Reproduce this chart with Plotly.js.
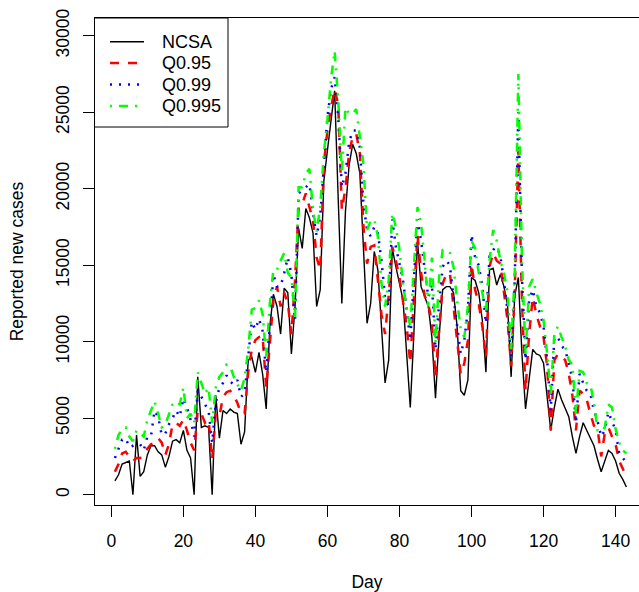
<!DOCTYPE html>
<html>
<head>
<meta charset="utf-8">
<script src="https://cdn.plot.ly/plotly-3.0.1.min.js"></script>
<style>
  html, body { margin: 0; padding: 0; background: #ffffff; }
  #chart { width: 639px; height: 592px; }
</style>
</head>
<body>
<div id="chart"></div>
<script>
// Day index 1..143
const days = Array.from({length: 143}, (_, i) => i + 1);

// Reported new cases (NCSA)
const ncsa = [
  900, 1300, 2000, 2100, 2200, 0, 3900, 1200, 1500, 2600,
  3200, 3200, 2800, 2600, 1800, 2500, 3500, 3600, 3400, 4200,
  2900, 2400, 0, 7700, 4400, 4500, 4400, 0, 6500, 3700,
  5500, 5300, 5600, 5400, 5300, 3300, 4100, 8800, 9000, 8000,
  9300, 7900, 5600, 11000, 13100, 12300, 10500, 13500, 13200, 9200,
  12300, 17400, 16100, 18700, 18100, 17100, 12300, 13400, 20500, 22500,
  24500, 26400, 19300, 12500, 18500, 21500, 22900, 22300, 21000, 15800,
  11200, 12500, 15900, 14700, 11200, 7300, 8800, 16100, 14900, 13800,
  12700, 9200, 5700, 10500, 16600, 13600, 13000, 12300, 10300, 6300,
  10300, 13400, 13600, 13600, 13200, 11000, 6800, 6500, 7500, 14200,
  14000, 13200, 11400, 8000, 14700, 14800, 13700, 14400, 13600, 12400,
  7700, 13000, 14200, 9200, 5600, 7500, 9500, 9200, 9100, 8600,
  6400, 4200, 5700, 6900, 6200, 5700, 5100, 3800, 2700, 3800,
  4700, 4200, 3700, 3200, 2300, 1500, 2200, 2900, 2700, 2200,
  1400, 1000, 500
];

// Quantile series Q0.95
const q95 = [
  1500, 2000, 2700, 2800, 2500, 2200, 2400, 2400, 2600, 3000,
  3300, 3400, 3700, 3400, 2600, 3300, 4600, 4700, 4500, 4900,
  4200, 3400, 2900, 5500, 5300, 4700, 4900, 2300, 5300, 5100,
  6400, 6700, 6800, 6500, 6000, 5300, 5300, 8000, 9500, 10100,
  10300, 10400, 7000, 10100, 12700, 13600, 12300, 13200, 12500, 10500,
  14000, 18800, 19000, 19700, 18800, 17900, 15500, 14700, 21600, 23800,
  25300, 26500, 25500, 18600, 20000, 22300, 23400, 23600, 22300, 17500,
  15100, 16200, 16300, 14000, 11800, 10500, 13000, 16200, 15300, 14200,
  12500, 11000, 8600, 13000, 17000, 14500, 13000, 12500, 11200, 7700,
  11000, 13800, 14400, 14500, 12300, 10300, 7900, 8600, 10100, 15100,
  13400, 12500, 11000, 9000, 14900, 15800, 15300, 15100, 13400, 11400,
  8400, 13200, 22500, 12700, 6800, 10500, 12900, 11800, 11000, 10300,
  8400, 4200, 8800, 9200, 9000, 8800, 7900, 6500, 4200, 6800,
  6600, 6200, 5300, 4500, 4300, 2500, 4000, 4400, 3800, 3300,
  2200, 1700, 1200
];

// Quantile series Q0.99
const q99 = [
  2400, 3000, 3600, 3700, 3100, 3200, 3300, 3300, 2900, 3800,
  3800, 5500, 5100, 3900, 4000, 4600, 5000, 5500, 5100, 6300,
  5700, 4900, 3800, 6800, 6400, 5900, 5500, 3400, 6000, 7000,
  7300, 7800, 7400, 7200, 7500, 6400, 6600, 9000, 11300, 10800,
  11500, 10700, 8000, 11000, 14400, 13600, 13600, 14500, 15500, 14400,
  11400, 19700, 19900, 20100, 20300, 18400, 16900, 18200, 21400, 24700,
  26500, 27300, 24700, 20100, 21000, 23000, 23800, 23800, 22700, 19000,
  17300, 16900, 17500, 17100, 15300, 12900, 12300, 18000, 16200, 15000,
  14000, 12100, 10100, 14000, 18000, 16600, 14700, 12900, 13800, 9500,
  12500, 14900, 15300, 15000, 12900, 11200, 9200, 10100, 12100, 17000,
  15500, 15000, 13600, 11200, 15600, 16000, 16200, 15600, 14000, 12000,
  9000, 14000, 25000, 14200, 8800, 12700, 13400, 12300, 11900, 11000,
  8800, 5500, 10300, 10300, 9700, 9500, 8600, 7600, 4700, 7900,
  7300, 6800, 6600, 5500, 4800, 3800, 4200, 5400, 4800, 4200,
  2700, 2400, 2100
];

// Quantile series Q0.995
const q995 = [
  3000, 3900, 4300, 4400, 3800, 3500, 4200, 4000, 3800, 4900,
  5500, 6100, 5300, 4400, 4600, 5200, 5900, 6100, 5900, 7000,
  5000, 5300, 4700, 8000, 7300, 6600, 7000, 4700, 7000, 7700,
  8000, 8500, 8400, 7700, 7200, 6800, 7600, 9500, 12100, 12200,
  12700, 11800, 9000, 12500, 14700, 14700, 15300, 15800, 14500, 14200,
  11600, 20100, 20100, 21000, 21300, 18600, 17200, 18800, 22300, 24500,
  27200, 29000, 25800, 21000, 25300, 24900, 24900, 25200, 23400, 21600,
  17300, 17900, 18000, 16900, 13800, 12300, 14000, 18400, 17500, 16000,
  13800, 12100, 11000, 15300, 18800, 17700, 15300, 12300, 15500, 9900,
  14200, 16000, 16000, 15800, 14900, 12700, 10800, 10300, 12300, 16600,
  16100, 14500, 13200, 11900, 15300, 17300, 16600, 15300, 14500, 13200,
  9500, 14500, 27500, 15300, 9200, 13600, 14100, 13200, 12500, 11400,
  9200, 6600, 10500, 11000, 10300, 9700, 8800, 8500, 5300, 8100,
  8000, 7300, 7200, 6000, 4200, 4100, 4400, 5900, 5700, 4300,
  3400, 2900, 2700
];

const seriesNames = ["NCSA", "Q0.95", "Q0.99", "Q0.995"];
const xTicks = [0, 20, 40, 60, 80, 100, 120, 140];
const yTicks = [0, 5000, 10000, 15000, 20000, 25000, 30000];

const FONT = "Liberation Sans, Arial, Helvetica, sans-serif";

const lineStyles = [
  {color: "#000000", width: 1.4},
  {color: "#ff0000", width: 2.5, dash: "9px,9px"},
  {color: "#0000ff", width: 2.5, dash: "2px,7px"},
  {color: "#00ff00", width: 2.5, dash: "2px,7px,9px,7px"}
];
const seriesValues = [ncsa, q95, q99, q995];

const traces = seriesValues.map((vals, i) => ({
  x: days, y: vals, name: seriesNames[i], mode: "lines",
  line: lineStyles[i], showlegend: false
}));

// Legend drawn R-style (box in the top-left corner of the plot region)
const PLOT_W = 544, PLOT_H = 487;   // plot region size in px
const px2x = p => p / PLOT_W;        // px offset from plot left -> paper x
const px2y = p => 1 - p / PLOT_H;    // px offset from plot top -> paper y
const legendShapes = [{
  type: "rect", xref: "paper", yref: "paper", layer: "above",
  x0: px2x(-0.5), x1: px2x(133), y0: px2y(109), y1: px2y(0),
  line: {color: "#000000", width: 1}, fillcolor: "#ffffff"
}];
const legendAnnots = [];
seriesNames.forEach((nm, i) => {
  const yy = px2y(23.7 + 21.4 * i);
  legendShapes.push({
    type: "line", xref: "paper", yref: "paper", layer: "above",
    x0: px2x(15), x1: px2x(49), y0: yy, y1: yy,
    line: lineStyles[i]
  });
  legendAnnots.push({
    xref: "paper", yref: "paper", x: px2x(65), y: yy,
    xanchor: "left", yanchor: "middle", showarrow: false,
    text: nm, font: {family: FONT, size: 18, color: "#000000"}
  });
});

const layout = {
  width: 639, height: 592,
  margin: {l: 95, r: 0, t: 18, b: 87, pad: 0},
  paper_bgcolor: "#ffffff", plot_bgcolor: "#ffffff",
  font: {family: FONT, size: 18, color: "#000000"},
  showlegend: false,
  shapes: legendShapes,
  annotations: legendAnnots,
  xaxis: {
    range: [-4.53, 146.5], tickvals: xTicks, ticktext: xTicks.map(String),
    ticks: "outside", ticklen: 11, tickwidth: 1, tickcolor: "#000000",
    ticklabelstandoff: 9,
    showline: true, linecolor: "#000000", linewidth: 1, mirror: true,
    showgrid: false, zeroline: false,
    tickfont: {family: FONT, size: 17.5},
    title: {text: "Day", font: {family: FONT, size: 17.5}, standoff: 25}
  },
  yaxis: {
    range: [-673, 31157], tickvals: yTicks, ticktext: yTicks.map(String),
    ticks: "outside", ticklen: 11, tickwidth: 1, tickcolor: "#000000",
    tickangle: -90, ticklabelstandoff: 7,
    showline: true, linecolor: "#000000", linewidth: 1, mirror: false,
    showgrid: false, zeroline: false,
    tickfont: {family: FONT, size: 17.5},
    title: {text: "Reported new cases", font: {family: FONT, size: 17.5}, standoff: 24}
  }
};

Plotly.newPlot("chart", traces, layout, {staticPlot: true, displayModeBar: false});
</script>
</body>
</html>
